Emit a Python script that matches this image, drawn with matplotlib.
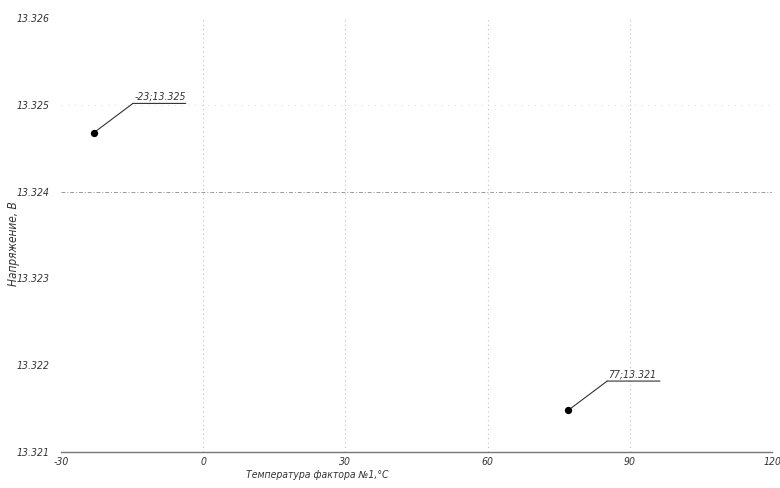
import matplotlib.pyplot as plt
import matplotlib.transforms as mtransforms

plt.rcParams['font.family'] = ['DejaVu Sans']
plt.rcParams['font.style'] = 'italic'
plt.rcParams['font.stretch'] = 'condensed'

# data
temps = [-23, 77]
volts = [13.32468, 13.32148]
xticks = [-30, 0, 30, 60, 90, 120]
yticks = [13.321, 13.322, 13.323, 13.324, 13.325, 13.326]

fig = plt.figure(figsize=(7.8, 4.88), dpi=100)
ax = fig.add_axes([0.078, 0.074, 0.912, 0.889])

ax.set_xlim(-30, 120)
ax.set_ylim(13.321, 13.326)
ax.set_xticks(xticks)
ax.set_yticks(yticks)
ax.set_xticklabels([str(t) for t in xticks], fontsize=7.5, color='#333333')
ax.set_yticklabels(['%.3f' % t for t in yticks], fontsize=7.5, color='#333333')
ax.tick_params(axis='x', length=0, pad=4)
ax.tick_params(axis='y', length=0, pad=8)

for s in ['top', 'right', 'left']:
    ax.spines[s].set_visible(False)
ax.spines['bottom'].set_color('#777777')
ax.spines['bottom'].set_linewidth(1.0)

for xv in xticks[1:-1]:
    ax.axvline(xv, color='#c0c0c0', linestyle=(0, (1, 3)), linewidth=0.8)
ax.axhline(13.325, color='#dddddd', linestyle=(0, (1, 5)), linewidth=0.8)
ax.axhline(13.324, color='#999999', linestyle=(0, (4, 2, 1, 2)), linewidth=0.7)

ax.scatter(temps, volts, s=18, color='black', zorder=5)

# leader lines with underlined labels
dx, dy, ul = 28, 21, 38
for x, y in zip(temps, volts):
    ax.annotate('', xy=(x, y), xycoords='data',
                xytext=(dx, dy), textcoords='offset points',
                arrowprops=dict(arrowstyle='-', color='#333333', lw=0.8,
                                shrinkA=0, shrinkB=0))
    off = mtransforms.ScaledTranslation(dx / 72, dy / 72, fig.dpi_scale_trans)
    ax.annotate('', xy=(x, y), xycoords=ax.transData + off,
                xytext=(ul, 0), textcoords='offset points',
                arrowprops=dict(arrowstyle='-', color='#333333', lw=0.8,
                                shrinkA=0, shrinkB=0))
    ax.annotate('%g;%.3f' % (x, y), xy=(x, y), xycoords='data',
                xytext=(dx + 1, dy + 1), textcoords='offset points',
                fontsize=7.5, color='#333333', ha='left', va='bottom')

ax.set_xlabel('Температура фактора №1,°C', fontsize=7.5, color='#333333')
ax.xaxis.set_label_coords(0.36, -0.042)
ax.set_ylabel('Напряжение, В', fontsize=8.5, color='#333333')
ax.yaxis.set_label_coords(-0.058, 0.48)

fig.savefig('out.png', dpi=100)
